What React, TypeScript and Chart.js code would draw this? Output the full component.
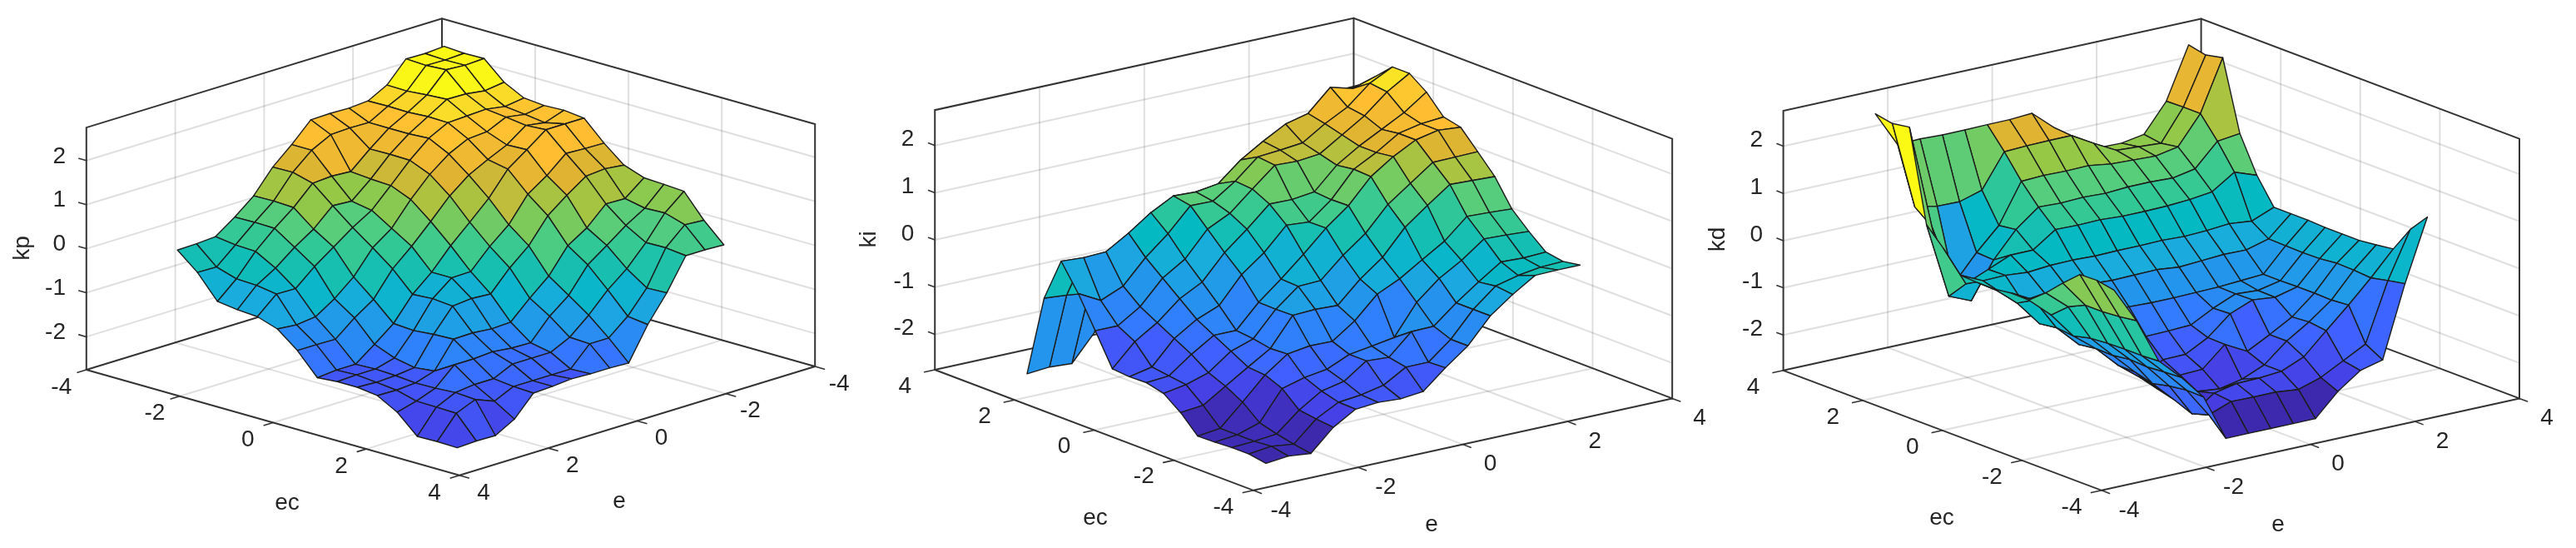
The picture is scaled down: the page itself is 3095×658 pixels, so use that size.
import { useEffect, useRef } from "react";
import { Chart, registerables } from "chart.js";

Chart.register(...registerables);

const gridSteps = [-3, -2.571, -2.143, -1.714, -1.286, -0.857, -0.429, 0, 0.429, 0.857, 1.286, 1.714, 2.143, 2.571, 3];
const axisTicks = [-4, -2, 0, 2, 4];
const heightTicks = [-2, -1, 0, 1, 2];

// rows: ec from -3 to 3, columns: e from -3 to 3
const kpValues = [
  [2.73, 2.7, 2.71, 2.25, 2.02, 1.99, 2.0, 1.99, 1.56, 1.18, 0.66, 0.31, 0, -0.03, -0.04],
  [2.7, 2.68, 2.69, 2.24, 2.03, 1.79, 1.8, 1.78, 1.56, 1.19, 0.67, 0.32, -0.06, -0.43, -0.42],
  [2.71, 2.69, 2.72, 2.28, 2.02, 1.79, 1.45, 1.07, 1.1, 1.07, 0.65, 0.31, -0.08, -0.57, -0.95],
  [2.3, 2.24, 2.3, 2.31, 2.05, 1.79, 1.46, 1.03, 0.66, 0.69, 0.29, 0.01, -0.33, -0.59, -1.01],
  [2.07, 2.01, 2.08, 2.06, 2.04, 1.82, 1.45, 1.01, 0.58, 0.32, 0.01, -0.3, -0.67, -0.66, -1.04],
  [2.03, 1.96, 2.03, 1.83, 1.8, 1.59, 1.26, 0.82, 0.3, -0.01, -0.54, -0.9, -1.18, -1.23, -1.19],
  [2.05, 1.9, 1.97, 1.66, 1.46, 1.24, 0.9, 0.45, 0.02, -0.36, -0.92, -1.21, -1.56, -1.55, -1.55],
  [2.0, 2.0, 2.0, 1.68, 1.37, 0.84, 0.43, 0.03, -0.44, -0.81, -1.34, -1.68, -2.0, -2.0, -2.04],
  [1.56, 1.57, 1.59, 1.22, 0.93, 0.37, 0.01, -0.43, -0.44, -0.78, -1.37, -1.86, -1.98, -1.98, -2.0],
  [1.19, 1.24, 1.2, 0.9, 0.57, 0.02, -0.35, -0.81, -0.78, -0.82, -1.33, -1.95, -2.0, -2.02, -2.0],
  [1.03, 0.69, 0.7, 0.29, 0.02, -0.54, -0.91, -1.32, -1.34, -1.3, -1.31, -1.9, -2.04, -2.07, -2.06],
  [1.01, 0.6, 0.34, 0.02, -0.29, -0.85, -1.19, -1.66, -1.65, -1.6, -1.63, -1.63, -2.03, -2.19, -2.31],
  [0.98, 0.62, 0.08, -0.38, -0.73, -1.17, -1.54, -1.75, -1.75, -1.75, -1.95, -1.95, -2.0, -2.2, -2.73],
  [0.45, 0.48, 0.09, -0.69, -1.2, -1.56, -1.56, -2.0, -2.0, -2.0, -2.0, -2.2, -2.03, -2.21, -2.72],
  [0.02, 0.04, 0.04, -0.67, -1.26, -2.0, -1.98, -1.98, -1.96, -2.0, -2.02, -2.48, -2.72, -2.71, -2.73],
];

const kiValues = [
  [-2.74, -2.69, -2.74, -2.29, -2.01, -1.97, -2.0, -1.95, -1.55, -1.19, -0.66, -0.31, -0.01, 0, 0],
  [-2.68, -2.62, -2.68, -2.25, -2.0, -1.95, -1.85, -1.57, -1.57, -1.19, -0.66, -0.27, -0.15, -0.08, -0.06],
  [-2.68, -2.65, -2.6, -2.2, -1.9, -1.8, -1.47, -1.5, -1.06, -1.05, -0.66, -0.32, 0, -0.02, 0],
  [-2.7, -2.65, -2.5, -1.88, -1.75, -1.68, -1.47, -1.4, -1.32, -0.68, -0.28, 0, 0.35, 0.33, 0.3],
  [-2.71, -2.65, -2.2, -1.73, -1.39, -1.32, -1.33, -1.0, -0.54, -0.32, -0.02, 0.27, 0.69, 0.67, 0.64],
  [-2.35, -2.3, -2.0, -1.7, -1.41, -0.81, -0.79, -0.81, -0.36, 0, 0.53, 0.89, 1.23, 1.21, 1.19],
  [-2.08, -2.0, -1.85, -1.5, -1.34, -0.82, -0.44, -0.42, 0.01, 0.37, 0.88, 1.22, 1.56, 1.57, 1.58],
  [-1.99, -1.95, -1.6, -1.3, -1.3, -0.81, -0.42, 0, 0.45, 0.82, 1.33, 1.65, 1.9, 2.0, 1.96],
  [-2.0, -1.9, -1.4, -1.1, -0.91, -0.36, 0, 0.48, 0.44, 0.81, 1.35, 1.6, 1.9, 2.0, 2.04],
  [-1.97, -1.5, -1.2, -0.8, -0.55, -0.03, 0.36, 0.79, 0.78, 0.84, 1.3, 1.6, 1.85, 2.1, 2.43],
  [-1.3, -1.3, -1.0, -0.5, -0.2, 0.33, 0.56, 0.97, 1.37, 1.35, 1.4, 1.7, 2.0, 2.4, 2.69],
  [-0.65, -0.9, -0.7, -0.2, 0.2, 0.69, 0.68, 1.0, 1.41, 1.45, 1.5, 1.8, 2.05, 2.45, 2.69],
  [-0.1, -0.13, -0.11, 0.18, 0.51, 0.76, 0.74, 0.81, 1.21, 1.5, 1.76, 1.88, 2.33, 2.2, 2.35],
  [-1.02, -1.06, -1.12, -0.6, -0.2, 0, 0.1, 0.1, 0.6, 0.9, 1.1, 1.3, 1.7, 1.9, 2.03],
  [-2.76, -2.72, -2.75, -2.2, -1.6, -1.2, -1.0, -0.9, -0.4, 0.1, 0.4, 0.6, 1.2, 1.6, 1.8],
];

const kdValues = [
  [0.93, 0.18, -0.78, -1.23, -1.75, -2.73, -2.73, -2.73, -2.73, -2.73, -2.26, -1.92, -1.8, -0.29, 1.02],
  [1.0, 0.13, -0.8, -1.25, -1.74, -2.37, -2.19, -2.2, -2.2, -2.25, -2.1, -1.85, -1.6, -0.36, 0.62],
  [0.99, 0.1, -0.8, -1.28, -1.79, -2.48, -2.15, -2.05, -2.04, -2.0, -1.8, -1.35, -0.91, -0.44, 0.07],
  [0.67, 0.1, -0.81, -1.26, -1.87, -2.33, -2.25, -2.3, -2.2, -2.0, -1.6, -1.3, -0.94, -0.41, 0.02],
  [0.33, -0.07, -0.84, -1.31, -1.77, -2.23, -2.04, -2.02, -1.6, -1.85, -1.6, -1.33, -0.93, -0.4, -0.02],
  [0.04, -0.38, -0.93, -1.3, -1.76, -2.13, -1.85, -1.84, -1.59, -1.19, -1.0, -1.05, -0.93, -0.44, -0.02],
  [0.05, -0.2, -0.89, -1.35, -1.5, -1.5, -1.49, -1.48, -1.46, -1.21, -1.01, -1.04, -0.94, -0.45, -0.02],
  [0.0, -0.4, -0.94, -1.0, -1.0, -1.0, -1.0, -1.02, -1.02, -1.01, -1.0, -0.97, -0.94, -0.44, 0.0],
  [0.0, -0.3, -0.6, -0.54, -0.52, -0.55, -0.58, -0.57, -0.56, -0.61, -0.58, -0.55, -0.56, -0.43, 0.0],
  [0.02, -0.2, -0.19, -0.23, -0.19, -0.18, -0.2, -0.19, -0.19, -0.18, -0.2, -0.18, -0.14, -0.19, 0.0],
  [0.45, -0.4, -0.2, 0.0, 0.0, 0.33, 0.32, 0.33, 0.3, 0.3, 0.31, 0.34, 0.4, 0.71, 0.54],
  [0.82, -0.8, -1.0, -0.24, 0.3, 0.67, 0.65, 0.67, 0.65, 0.68, 0.68, 0.66, 0.75, 1.23, 1.29],
  [2.75, 0.54, -0.77, -0.22, 0.25, 1.08, 1.1, 1.09, 1.1, 1.03, 1.01, 0.99, 1.08, 1.68, 2.76],
  [2.69, 0.82, 0.73, 0.72, 0.86, 1.57, 1.59, 1.6, 1.6, 1.33, 1.08, 1.05, 1.02, 1.68, 2.68],
  [2.76, 2.0, 2.02, 2.0, 2.0, 2.01, 2.01, 2.04, 1.63, 1.3, 1.0, 0.99, 1.07, 1.67, 2.76],
];

const colorStops: [number, number, number, number][] = [
  [0, 60, 40, 170], [0.07, 70, 60, 225], [0.16, 65, 95, 255], [0.236, 50, 125, 255],
  [0.318, 35, 150, 235], [0.396, 25, 172, 220], [0.465, 5, 185, 195], [0.555, 50, 200, 150],
  [0.62, 85, 205, 125], [0.7, 150, 200, 70], [0.79, 225, 180, 50], [0.864, 255, 190, 50],
  [0.918, 250, 220, 40], [1, 250, 250, 20],
];

const Z_MIN = -2.75;
const Z_MAX = 2.75;

function parula(z: number) {
  const t = Math.max(0, Math.min(1, (z - Z_MIN) / (Z_MAX - Z_MIN)));
  for (let k = 1; k < colorStops.length; k++) {
    if (t <= colorStops[k][0]) {
      const a = colorStops[k - 1];
      const b = colorStops[k];
      const f = (t - a[0]) / (b[0] - a[0]);
      return `rgb(${Math.round(a[1] + (b[1] - a[1]) * f)},${Math.round(a[2] + (b[2] - a[2]) * f)},${Math.round(a[3] + (b[3] - a[3]) * f)})`;
    }
  }
  return "rgb(250,250,20)";
}

const panels = [
  {
    name: "kp", values: kpValues, left: 0, width: 1030,
    ox: 541.5, oy: 296.6, ax: 56.03, ay: 15.84, bx: -53.4, by: 16.34, cz: 52.9,
    backEc: -4, backE: -4,
    ecOffset: [-30, 21], eOffset: [29, 21], ecTitle: [345, 604], eTitle: [744, 602], zTitle: [27.6, 298], zRight: 79, zLift: 5,
  },
  {
    name: "ki", values: kiValues, left: 1030, width: 1030,
    ox: 1566.2, oy: 305.3, ax: -47.84, ay: -18.1, bx: 62.9, by: -13.8, cz: 56.7,
    backEc: 4, backE: 4,
    ecOffset: [-36, 20], eOffset: [33, 24], ecTitle: [1316, 622], eTitle: [1720, 630], zTitle: [1044.5, 287.5], zRight: 1098.3, zLift: 7,
  },
  {
    name: "kd", values: kdValues, left: 2050, width: 1045,
    ox: 2584.8, oy: 305.7, ax: -47.8, ay: -18, bx: 62.75, by: -13.8, cz: 56.7,
    backEc: 4, backE: 4,
    ecOffset: [-36, 20], eOffset: [33, 24], ecTitle: [2333, 622], eTitle: [2737, 630], zTitle: [2064, 287.5], zRight: 2118, zLift: 7,
  },
];

type Panel = (typeof panels)[number];

const project = (p: Panel, ec: number, e: number, z: number) => ({
  x: p.ox + p.ax * ec + p.bx * e,
  y: p.oy + p.ay * ec + p.by * e - p.cz * z,
});

const GRID = "rgba(38,38,38,0.15)";
const AXIS = "#333333";
const EDGE = "#1c1c1c";

function lineSet(points: { x: number; y: number }[], color: string, width: number) {
  return {
    data: points, showLine: true, pointRadius: 0, borderColor: color, borderWidth: width,
    backgroundColor: "transparent", fill: false, tension: 0, clip: false, borderCapStyle: "round",
  };
}

function buildDatasets(p: Panel) {
  const cells: any[] = [];
  const n = gridSteps.length - 1;
  const order = Array.from({ length: n }, (_, k) => (p.backEc < 0 ? n - 1 - k : k));
  for (const j of order) {
    for (const i of order) {
      const v = p.values;
      const pts = [
        project(p, gridSteps[j], gridSteps[i], v[j][i]),
        project(p, gridSteps[j], gridSteps[i + 1], v[j][i + 1]),
        project(p, gridSteps[j + 1], gridSteps[i + 1], v[j + 1][i + 1]),
        project(p, gridSteps[j + 1], gridSteps[i], v[j + 1][i]),
        project(p, gridSteps[j], gridSteps[i], v[j][i]),
      ];
      cells.push({ ...lineSet(pts, EDGE, 1.4), quadColor: parula(v[j][i]), borderJoinStyle: "round" });
    }
  }
  const bEc = p.backEc;
  const bE = p.backE;
  const frame: any[] = [];
  frame.push(lineSet([project(p, -bEc, bE, Z_MIN), project(p, -bEc, -bE, Z_MIN), project(p, bEc, -bE, Z_MIN)], AXIS, 2));
  frame.push(lineSet([project(p, bEc, -bE, Z_MIN), project(p, bEc, -bE, Z_MAX), project(p, bEc, bE, Z_MAX), project(p, -bEc, bE, Z_MAX), project(p, -bEc, bE, Z_MIN)], AXIS, 2));
  frame.push(lineSet([project(p, bEc, bE, Z_MAX), project(p, bEc, bE, Z_MIN)], AXIS, 2));
  frame.push(lineSet([project(p, bEc, -bE, Z_MIN), project(p, bEc, bE, Z_MIN), project(p, -bEc, bE, Z_MIN)], AXIS, 2));
  for (const t of axisTicks) {
    frame.push(lineSet([project(p, t, -bE, Z_MIN), project(p, t, -bE * 1.05, Z_MIN)], AXIS, 1.6));
    frame.push(lineSet([project(p, -bEc, t, Z_MIN), project(p, -bEc * 1.05, t, Z_MIN)], AXIS, 1.6));
  }
  for (const z of heightTicks) {
    frame.push(lineSet([project(p, bEc, -bE, z), project(p, bEc * 1.04, -bE, z)], AXIS, 1.6));
  }
  const grid: any[] = [];
  for (const t of axisTicks.slice(1, -1)) {
    grid.push(lineSet([project(p, t, bE, Z_MIN), project(p, t, -bE, Z_MIN)], GRID, 2));
    grid.push(lineSet([project(p, -bEc, t, Z_MIN), project(p, bEc, t, Z_MIN)], GRID, 2));
    grid.push(lineSet([project(p, t, bE, Z_MIN), project(p, t, bE, Z_MAX)], GRID, 2));
    grid.push(lineSet([project(p, bEc, t, Z_MIN), project(p, bEc, t, Z_MAX)], GRID, 2));
  }
  for (const z of heightTicks) {
    grid.push(lineSet([project(p, bEc, -bE, z), project(p, bEc, bE, z), project(p, -bEc, bE, z)], GRID, 2));
  }
  return [...cells, ...frame, ...grid];
}

const quadFill = {
  id: "quadFill",
  beforeDatasetDraw(chart: any, args: any) {
    const ds = chart.data.datasets[args.index];
    if (!ds.quadColor) return;
    const pts = args.meta.data;
    const ctx = chart.ctx;
    ctx.save();
    ctx.beginPath();
    pts.forEach((pt: any, k: number) => (k ? ctx.lineTo(pt.x, pt.y) : ctx.moveTo(pt.x, pt.y)));
    ctx.closePath();
    ctx.fillStyle = ds.quadColor;
    ctx.fill();
    ctx.restore();
  },
};

const axisText = {
  id: "axisText",
  afterDraw(chart: any, _args: any, opts: any) {
    const p: Panel = opts.panel;
    const ctx = chart.ctx;
    const sx = chart.scales.x;
    const sy = chart.scales.y;
    const bEc = p.backEc;
    const bE = p.backE;
    ctx.save();
    ctx.fillStyle = "#262626";
    ctx.font = '28px "Liberation Sans"';
    ctx.textBaseline = "middle";
    ctx.textAlign = "center";
    for (const t of axisTicks) {
      const a = project(p, t, -bE, Z_MIN);
      ctx.fillText(String(t), sx.getPixelForValue(a.x + p.ecOffset[0]), sy.getPixelForValue(a.y + p.ecOffset[1]));
      const b = project(p, -bEc, t, Z_MIN);
      ctx.fillText(String(t), sx.getPixelForValue(b.x + p.eOffset[0]), sy.getPixelForValue(b.y + p.eOffset[1]));
    }
    ctx.fillText("ec", sx.getPixelForValue(p.ecTitle[0]), sy.getPixelForValue(p.ecTitle[1]));
    ctx.fillText("e", sx.getPixelForValue(p.eTitle[0]), sy.getPixelForValue(p.eTitle[1]));
    ctx.textAlign = "right";
    for (const z of heightTicks) {
      const a = project(p, bEc, -bE, z);
      ctx.fillText(String(z), sx.getPixelForValue(p.zRight), sy.getPixelForValue(a.y - p.zLift));
    }
    ctx.textAlign = "center";
    ctx.translate(sx.getPixelForValue(p.zTitle[0]), sy.getPixelForValue(p.zTitle[1]));
    ctx.rotate(-Math.PI / 2);
    ctx.fillText(p.name, 0, 0);
    ctx.restore();
  },
};

function SurfacePanel({ panel }: { panel: Panel }) {
  const ref = useRef<HTMLCanvasElement>(null);
  useEffect(() => {
    const chart = new Chart(ref.current as HTMLCanvasElement, {
      type: "scatter",
      data: { datasets: buildDatasets(panel) as any },
      plugins: [quadFill, axisText],
      options: {
        animation: false,
        responsive: false,
        devicePixelRatio: 1,
        layout: { padding: 0 },
        scales: {
          x: { type: "linear", min: panel.left, max: panel.left + panel.width, display: false },
          y: { type: "linear", min: 0, max: 658, reverse: true, display: false },
        },
        plugins: {
          legend: { display: false },
          tooltip: { enabled: false },
          axisText: { panel },
        } as any,
      },
    });
    return () => chart.destroy();
  }, [panel]);
  return (
    <canvas
      ref={ref}
      width={panel.width}
      height={658}
      style={{ position: "absolute", left: panel.left, top: 0, width: panel.width, height: 658 }}
    />
  );
}

export default function App() {
  return (
    <div style={{ position: "absolute", left: 0, top: 0, width: 3095, height: 658, background: "#fff", overflow: "hidden" }}>
      {panels.map((p) => (
        <SurfacePanel key={p.name} panel={p} />
      ))}
    </div>
  );
}
